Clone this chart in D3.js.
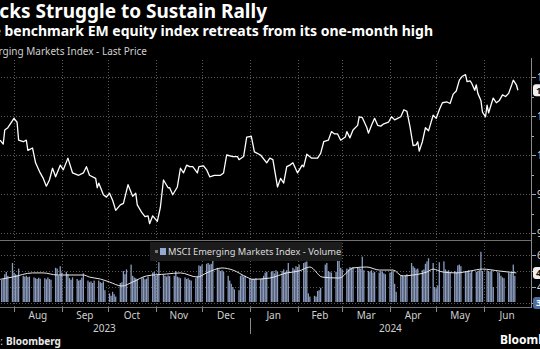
<!DOCTYPE html>
<html>
<head>
<meta charset="utf-8">
<script src="https://cdn.jsdelivr.net/npm/d3@7"></script>
<style>
  html, body { margin: 0; padding: 0; background: #000; }
  svg { display: block; font-family: "Noto Sans", sans-serif; }
</style>
</head>
<body>
<div id="chart"></div>
<script>
'use strict';

/* Price series */
const priceDates = [
  '2023-07-23','2023-07-25','2023-07-26','2023-07-28','2023-08-01','2023-08-03','2023-08-04','2023-08-07',
  '2023-08-09','2023-08-10','2023-08-13','2023-08-15','2023-08-18','2023-08-20','2023-08-22','2023-08-24',
  '2023-08-26','2023-08-28','2023-08-31','2023-09-02','2023-09-05','2023-09-08','2023-09-12','2023-09-15',
  '2023-09-17','2023-09-19','2023-09-23','2023-09-24','2023-09-25','2023-09-28','2023-09-30','2023-10-02',
  '2023-10-04','2023-10-06','2023-10-09','2023-10-11','2023-10-14','2023-10-17','2023-10-19','2023-10-20',
  '2023-10-23','2023-10-25','2023-10-27','2023-10-28','2023-10-30','2023-11-02','2023-11-04','2023-11-06',
  '2023-11-09','2023-11-10','2023-11-12','2023-11-15','2023-11-17','2023-11-19','2023-11-21','2023-11-23',
  '2023-11-25','2023-11-28','2023-11-29','2023-12-02','2023-12-04','2023-12-06','2023-12-09','2023-12-13',
  '2023-12-15','2023-12-17','2023-12-21','2023-12-24','2023-12-25','2023-12-28','2023-12-30','2024-01-02',
  '2024-01-04','2024-01-08','2024-01-12','2024-01-14','2024-01-16','2024-01-19','2024-01-21','2024-01-23',
  '2024-01-25','2024-01-27','2024-01-29','2024-02-01','2024-02-04','2024-02-05','2024-02-07','2024-02-10',
  '2024-02-14','2024-02-16','2024-02-18','2024-02-21','2024-02-23','2024-02-25','2024-02-27','2024-02-29',
  '2024-03-03','2024-03-04','2024-03-06','2024-03-08','2024-03-11','2024-03-12','2024-03-14','2024-03-17',
  '2024-03-18','2024-03-20','2024-03-22','2024-03-24','2024-03-26','2024-03-28','2024-03-31','2024-04-02',
  '2024-04-04','2024-04-06','2024-04-08','2024-04-10','2024-04-12','2024-04-14','2024-04-16','2024-04-18',
  '2024-04-19','2024-04-20','2024-04-22','2024-04-24','2024-04-26','2024-04-29','2024-05-01','2024-05-03',
  '2024-05-05','2024-05-08','2024-05-10','2024-05-12','2024-05-14','2024-05-16','2024-05-18','2024-05-20',
  '2024-05-21','2024-05-23','2024-05-24','2024-05-26','2024-05-27','2024-05-28','2024-05-30','2024-05-31',
  '2024-06-02','2024-06-03','2024-06-04','2024-06-06','2024-06-07','2024-06-09','2024-06-11','2024-06-13',
  '2024-06-15','2024-06-17','2024-06-19','2024-06-20','2024-06-22','2024-06-23'
];
const priceValues = [
  1019,1014,1032,1035,1047,1042,1019,1017,
  1019,1006,1009,990,977,970,960,968,
  983,972,987,981,996,977,974,977,
  985,974,970,958,964,949,946,951,
  942,929,936,938,962,947,951,936,
  926,921,922,912,922,915,933,968,
  958,958,949,959,983,977,987,985,
  985,977,985,986,981,972,974,974,
  977,1000,998,998,994,998,1023,1024,
  1004,1000,990,996,994,959,970,964,
  985,987,990,977,987,985,1001,996,
  996,1002,1017,1019,1030,1027,1027,1019,
  1023,1030,1022,1032,1038,1049,1048,1035,
  1028,1038,1047,1038,1037,1040,1042,1049,
  1045,1047,1049,1058,1056,1036,1012,1013,
  1017,1005,1017,1035,1031,1051,1047,1058,
  1067,1068,1066,1078,1082,1096,1101,1103,
  1094,1095,1092,1083,1090,1079,1070,1055,
  1049,1064,1054,1067,1073,1067,1070,1077,
  1075,1079,1090,1096,1090,1083
];

/* Daily volume (millions), one row per week, Mon-Fri from 24 Jul 2023 */
const volumeValues = [
  444,450,480,494,470,  550,490,480,475,515,  470,465,470,462,465,  460,455,450,458,452,
  455,448,460,450,445,  520,515,470,530,490,  495,480,455,445,460,  450,440,445,458,485,
  440,430,435,425,440,  440,430,425,435,380,  360,345,370,355,340,  425,430,500,480,510,
  540,470,460,455,450,  455,460,448,452,465,  490,495,470,480,555,  475,470,465,472,468,
  470,500,465,460,455,  460,450,455,445,440,  455,470,535,530,540,  545,550,540,545,590,
  520,510,500,505,495,  470,440,420,400,385,  380,470,475,465,470,  455,450,452,448,455,
  450,455,470,490,495,  495,500,485,505,495,  500,510,495,505,550,  520,510,530,525,540,
  550,555,560,360,340,  345,340,375,380,395,  540,550,500,495,490,  495,575,585,520,510,
  515,510,525,520,525,  525,520,515,590,505,  500,495,505,490,495,  490,500,495,485,480,
  490,495,500,420,370,  470,475,465,472,480,  550,530,520,510,515,  505,510,545,560,580,
  550,400,390,410,555,  560,510,500,505,495,  500,495,535,540,530,  500,495,505,490,500,
  495,500,505,620,500,  505,500,495,505,400,  495,490,470,460,455,  490,485,495,540,470
];

/* Volume moving-average line */
const maDates = [
  '2023-07-23','2023-07-31','2023-08-13','2023-08-20','2023-08-29','2023-09-15','2023-09-19','2023-09-26',
  '2023-10-02','2023-10-10','2023-10-17','2023-10-26','2023-11-08','2023-11-17','2023-11-28','2023-12-04',
  '2023-12-14','2023-12-21','2023-12-30','2024-01-03','2024-01-14','2024-01-25','2024-02-02','2024-02-09',
  '2024-02-17','2024-02-28','2024-03-08','2024-03-17','2024-03-25','2024-04-03','2024-04-09','2024-04-16',
  '2024-04-25','2024-04-29','2024-05-05','2024-05-14','2024-05-23','2024-05-31','2024-06-11','2024-06-22'
];
const maValues = [
  448,462,488,488,475,475,462,450,
  431,406,431,469,481,488,462,488,
  519,506,462,448,456,488,500,525,
  462,456,519,525,506,506,469,475,
  494,512,494,488,500,512,500,488
];

const priceTicks = [900, 950, 1000, 1050, 1100];
const priceMinor = [925, 975, 1025, 1075];
const volTicks = [300, 400, 500, 600];
const volLabelTicks = [400, 600];
const volLabels = ['400M', '600M'];
const years = [2023, 2024];

const W = 540, H = 349;
const plotL = -41, plotR = 531;
const parse = d3.timeParse('%Y-%m-%d');

const svg = d3.select('#chart').append('svg').attr('width', W).attr('height', H);
svg.append('rect').attr('width', W).attr('height', H).attr('fill', '#000');

const x = d3.scaleTime().domain([new Date(2023, 7, 1), new Date(2024, 5, 1)]).range([14, 484]);
const yP = d3.scaleLinear().domain([900, 1100]).range([233, 77]);
const yV = d3.scaleLinear().domain([300, 700]).range([303, 239]);

/* Grid */
const months = d3.timeMonth.range(new Date(2023, 6, 1), new Date(2024, 6, 1));
svg.append('g').selectAll('line').data(months).join('line')
    .attr('x1', d => Math.round(x(d)) + 0.5).attr('x2', d => Math.round(x(d)) + 0.5)
    .attr('y1', 60).attr('y2', 307)
    .attr('stroke', '#5a5a5a').attr('stroke-width', 1).attr('stroke-dasharray', '1,2');

svg.append('g').selectAll('line').data(priceTicks).join('line')
    .attr('x1', plotL).attr('x2', plotR)
    .attr('y1', d => Math.round(yP(d)) + 0.5).attr('y2', d => Math.round(yP(d)) + 0.5)
    .attr('stroke', '#5a5a5a').attr('stroke-dasharray', '1,2');

svg.append('g').selectAll('line').data(volTicks).join('line')
    .attr('x1', plotL).attr('x2', plotR)
    .attr('y1', d => Math.round(yV(d)) + 0.5).attr('y2', d => Math.round(yV(d)) + 0.5)
    .attr('stroke', '#5a5a5a').attr('stroke-dasharray', '1,2');

/* Panel borders */
svg.append('line').attr('x1', plotL).attr('x2', plotR).attr('y1', 240.5).attr('y2', 240.5).attr('stroke', '#707070');
svg.append('line').attr('x1', plotL).attr('x2', plotR).attr('y1', 307.5).attr('y2', 307.5).attr('stroke', '#707070');
svg.append('line').attr('x1', plotR + 0.5).attr('x2', plotR + 0.5).attr('y1', 58).attr('y2', 308).attr('stroke', '#8a8a8a');

/* Volume bars */
const volDates = d3.timeDay.range(new Date(2023, 6, 24), new Date(2024, 5, 22))
    .filter(d => d.getDay() !== 0 && d.getDay() !== 6);
const volData = volDates.map((d, i) => ({ date: d, v: volumeValues[i] }));
svg.append('g').selectAll('rect').data(volData).join('rect')
    .attr('x', d => x(d.date) - 0.65)
    .attr('width', 1.3)
    .attr('y', d => yV(d.v))
    .attr('height', d => yV(300) - yV(d.v) - 1)
    .attr('fill', '#8b9cbf');

/* Volume moving average */
const maData = maDates.map((d, i) => ({ date: parse(d), v: maValues[i] }));
svg.append('path').datum(maData)
    .attr('d', d3.line().x(d => x(d.date)).y(d => yV(d.v)).curve(d3.curveMonotoneX))
    .attr('fill', 'none').attr('stroke', '#e6e6e6').attr('stroke-width', 1);

/* Price line */
const priceData = priceDates.map((d, i) => ({ date: parse(d), v: priceValues[i] }));
svg.append('path').datum(priceData)
    .attr('d', d3.line().x(d => x(d.date)).y(d => yP(d.v)))
    .attr('fill', 'none').attr('stroke', '#fff').attr('stroke-width', 1.3)
    .attr('stroke-linejoin', 'round');

/* Volume legend */
const lg = svg.append('g');
lg.append('rect').attr('x', 150).attr('y', 242).attr('width', 192).attr('height', 19).attr('fill', '#1c1c1c');
lg.append('rect').attr('x', 155).attr('y', 250).attr('width', 3).attr('height', 3).attr('fill', '#777');
lg.append('rect').attr('x', 160).attr('y', 248).attr('width', 6).attr('height', 7).attr('fill', '#94a8d2');
lg.append('text').attr('x', 168).attr('y', 255).attr('font-size', 9.3).attr('fill', '#ddd')
    .text('MSCI Emerging Markets Index - Volume');

/* Right axis ticks & labels */
const ax = svg.append('g');
ax.selectAll('.pt').data(priceTicks).join('line').attr('class', 'pt')
    .attr('x1', plotR + 1).attr('x2', plotR + 5)
    .attr('y1', d => Math.round(yP(d)) + 0.5).attr('y2', d => Math.round(yP(d)) + 0.5).attr('stroke', '#aaa');
ax.selectAll('.pm').data(priceMinor).join('line').attr('class', 'pm')
    .attr('x1', plotR + 1).attr('x2', plotR + 3)
    .attr('y1', d => Math.round(yP(d)) + 0.5).attr('y2', d => Math.round(yP(d)) + 0.5).attr('stroke', '#aaa');
ax.selectAll('.pl').data(priceTicks).join('text').attr('class', 'pl')
    .attr('x', 537).attr('y', d => yP(d)).attr('dy', '0.35em')
    .attr('font-size', 10).attr('fill', '#ddd').text(d => d3.format(',')(d));
ax.selectAll('.vt').data(volTicks).join('line').attr('class', 'vt')
    .attr('x1', plotR + 1).attr('x2', plotR + 5)
    .attr('y1', d => Math.round(yV(d)) + 0.5).attr('y2', d => Math.round(yV(d)) + 0.5).attr('stroke', '#aaa');
ax.selectAll('.vl').data(volLabelTicks).join('text').attr('class', 'vl')
    .attr('x', 537).attr('y', d => yV(d)).attr('dy', '0.35em')
    .attr('font-size', 10).attr('fill', '#ddd').text((d, i) => volLabels[i]);

/* Value badges */
function badge(yc, fill, color, label) {
    const g = svg.append('g');
    g.append('rect').attr('x', 533).attr('y', yc - 6).attr('width', 34).attr('height', 12).attr('rx', 3).attr('fill', fill);
    g.append('text').attr('x', 536).attr('y', yc).attr('dy', '0.35em').attr('font-size', 9.5)
        .attr('font-weight', 'bold').attr('fill', color).text(label);
}
const lastPrice = priceValues[priceValues.length - 1];
const lastMa = maValues[maValues.length - 1];
badge(yP(lastPrice), '#f0f0f0', '#111', d3.format(',')(lastPrice));
badge(yV(lastMa), '#f0f0f0', '#111', lastMa + 'M');
badge(yV(volTicks[0]), '#4f6c9e', '#fff', '300M');

/* X axis */
svg.append('g').selectAll('line').data(months).join('line')
    .attr('x1', d => Math.round(x(d)) + 0.5).attr('x2', d => Math.round(x(d)) + 0.5)
    .attr('y1', 308).attr('y2', 312).attr('stroke', '#8a8a8a');
const monthMid = months.map(m => {
    const next = d3.timeMonth.offset(m, 1);
    const a = Math.max(x(m), plotL), b = Math.min(x(next), plotR);
    return { m, cx: (a + b) / 2 };
});
svg.append('g').selectAll('text').data(monthMid).join('text')
    .attr('x', d => d.cx).attr('y', 319).attr('text-anchor', 'middle')
    .attr('font-size', 10).attr('fill', '#d0d0d0').text(d => d3.timeFormat('%b')(d.m));
const yearMid = years.map(yr => {
    const a = Math.max(x(new Date(yr, 0, 1)), plotL), b = Math.min(x(new Date(yr + 1, 0, 1)), plotR);
    return { yr, cx: (a + b) / 2 };
});
svg.append('g').selectAll('text').data(yearMid).join('text')
    .attr('x', d => d.cx).attr('y', 332).attr('text-anchor', 'middle')
    .attr('font-size', 10).attr('fill', '#d0d0d0').text(d => d.yr);
svg.append('line')
    .attr('x1', Math.round(x(new Date(2024, 0, 1))) + 0.5).attr('x2', Math.round(x(new Date(2024, 0, 1))) + 0.5)
    .attr('y1', 318).attr('y2', 334).attr('stroke', '#8a8a8a');

/* Titles */
svg.append('text').attr('x', 267).attr('y', 18).attr('text-anchor', 'end')
    .attr('font-size', 19).attr('font-weight', 'bold').attr('fill', '#fff')
    .text('Stocks Struggle to Sustain Rally');
svg.append('text').attr('x', 433).attr('y', 36).attr('text-anchor', 'end')
    .attr('font-size', 14).attr('font-weight', 'bold').attr('fill', '#fff')
    .text('The benchmark EM equity index retreats from its one-month high');
svg.append('text').attr('x', 147).attr('y', 55).attr('text-anchor', 'end')
    .attr('font-size', 10).attr('fill', '#cfcfcf')
    .text('MSCI Emerging Markets Index - Last Price');

/* Footer */
svg.append('text').attr('x', 3).attr('y', 345).attr('text-anchor', 'end')
    .attr('font-size', 10).attr('fill', '#cfcfcf').text('Source:');
svg.append('text').attr('x', 6).attr('y', 345)
    .attr('font-size', 10).attr('font-weight', 'bold').attr('fill', '#e8e8e8').text('Bloomberg');
svg.append('text').attr('x', 500).attr('y', 344)
    .attr('font-size', 12).attr('font-weight', 'bold').attr('fill', '#fff').text('Bloomberg');
</script>
</body>
</html>
